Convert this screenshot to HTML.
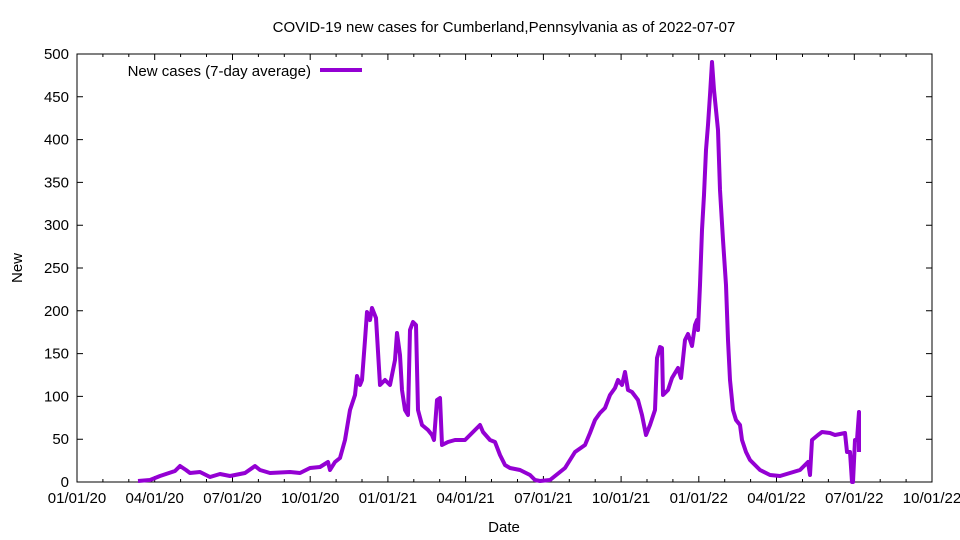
<!DOCTYPE html>
<html><head><meta charset="utf-8"><style>body{margin:0;background:#fff}svg{display:block;font-family:"Liberation Sans",sans-serif}</style></head><body>
<svg width="960" height="540" viewBox="0 0 960 540" xmlns="http://www.w3.org/2000/svg">
<rect width="960" height="540" fill="#fff"/>
<text x="504" y="32" font-size="15" text-anchor="middle">COVID-19 new cases for Cumberland,Pennsylvania as of 2022-07-07</text>
<g font-size="15" text-anchor="end">
<text x="69" y="487">0</text><text x="69" y="444.2">50</text><text x="69" y="401.4">100</text><text x="69" y="358.6">150</text><text x="69" y="315.8">200</text><text x="69" y="273">250</text><text x="69" y="230.2">300</text><text x="69" y="187.4">350</text><text x="69" y="144.6">400</text><text x="69" y="101.8">450</text><text x="69" y="59">500</text>
</g>
<g stroke="#000" stroke-width="1" fill="none">
<path d="M77 439.2h6M77 396.4h6M77 353.6h6M77 310.8h6M77 268h6M77 225.2h6M77 182.4h6M77 139.6h6M77 96.8h6M932 439.2h-6M932 396.4h-6M932 353.6h-6M932 310.8h-6M932 268h-6M932 225.2h-6M932 182.4h-6M932 139.6h-6M932 96.8h-6"/>
<path d="M154.7 482v-6M232.5 482v-6M310.2 482v-6M387.9 482v-6M465.6 482v-6M543.4 482v-6M621.1 482v-6M698.8 482v-6M776.5 482v-6M854.3 482v-6M154.7 54v6M232.5 54v6M310.2 54v6M387.9 54v6M465.6 54v6M543.4 54v6M621.1 54v6M698.8 54v6M776.5 54v6M854.3 54v6"/>
<path d="M102.9 482v-3M128.8 482v-3M180.6 482v-3M206.5 482v-3M258.4 482v-3M284.3 482v-3M336.1 482v-3M362 482v-3M413.8 482v-3M439.7 482v-3M491.5 482v-3M517.5 482v-3M569.3 482v-3M595.2 482v-3M647 482v-3M672.9 482v-3M724.7 482v-3M750.6 482v-3M802.5 482v-3M828.4 482v-3M880.2 482v-3M906.1 482v-3M102.9 54v3M128.8 54v3M180.6 54v3M206.5 54v3M258.4 54v3M284.3 54v3M336.1 54v3M362 54v3M413.8 54v3M439.7 54v3M491.5 54v3M517.5 54v3M569.3 54v3M595.2 54v3M647 54v3M672.9 54v3M724.7 54v3M750.6 54v3M802.5 54v3M828.4 54v3M880.2 54v3M906.1 54v3"/>
</g>
<rect x="77" y="54" width="855" height="428" fill="none" stroke="#000"/>
<g font-size="15" text-anchor="middle">
<text x="77" y="503">01/01/20</text><text x="154.7" y="503">04/01/20</text><text x="232.5" y="503">07/01/20</text><text x="310.2" y="503">10/01/20</text><text x="387.9" y="503">01/01/21</text><text x="465.6" y="503">04/01/21</text><text x="543.4" y="503">07/01/21</text><text x="621.1" y="503">10/01/21</text><text x="698.8" y="503">01/01/22</text><text x="776.5" y="503">04/01/22</text><text x="854.3" y="503">07/01/22</text><text x="932" y="503">10/01/22</text>
</g>
<text x="22" y="268" font-size="15" text-anchor="middle" transform="rotate(-90 22 268)">New</text>
<text x="504" y="532" font-size="15" text-anchor="middle">Date</text>
<text x="311" y="76" font-size="15" text-anchor="end">New cases (7-day average)</text>
<line x1="320" y1="70" x2="362" y2="70" stroke="#9400d3" stroke-width="4"/>
<polyline fill="none" stroke="#9400d3" stroke-width="4" stroke-linejoin="round" points="138,481 150,480 160,476 175,471 180,466 186,470 190,473 200,472 210,477 220,474 230,476 245,473 255,466 260,470 270,473 290,472 300,473 310,468 320,467 328,462 330,470 335,462 340,458 345,440 350,410 355,395 357,376 360,385 362,380 365,340 367,312 370,320 372,308 376,318 380,385 385,380 390,385 395,360 397,333 400,355 402,390 405,410 408,415 410,330 413,322 416,325 418,410 422,425 428,430 432,435 434,440 437,400 440,398 442,445 448,442 455,440 465,440 470,435 475,430 480,425 483,432 490,440 495,442 500,455 505,465 510,468 520,470 530,475 535,480 540,481 550,480 555,476 560,472 565,468 570,460 575,452 585,445 590,433 595,420 600,413 605,408 610,395 615,388 618,380 622,385 625,372 628,390 632,392 638,400 642,415 646,435 650,425 655,410 657,358 660,347 662,348 663,395 668,390 672,378 678,368 681,378 685,340 688,334 692,346 695,325 697,320 698,330 700,285 702,230 704,195 706,150 708,125 710,95 712,62 714,90 716,110 718,130 720,190 723,240 726,285 728,340 730,380 733,410 736,420 740,425 742,440 746,452 750,460 755,465 760,470 770,475 780,476 790,473 800,470 805,465 808,462 810,475 812,440 818,435 822,432 830,433 835,435 845,433 847,452 850,452 852,482 853,482 855,440 857,440 859,412 859,452"/>
</svg>
</body></html>
